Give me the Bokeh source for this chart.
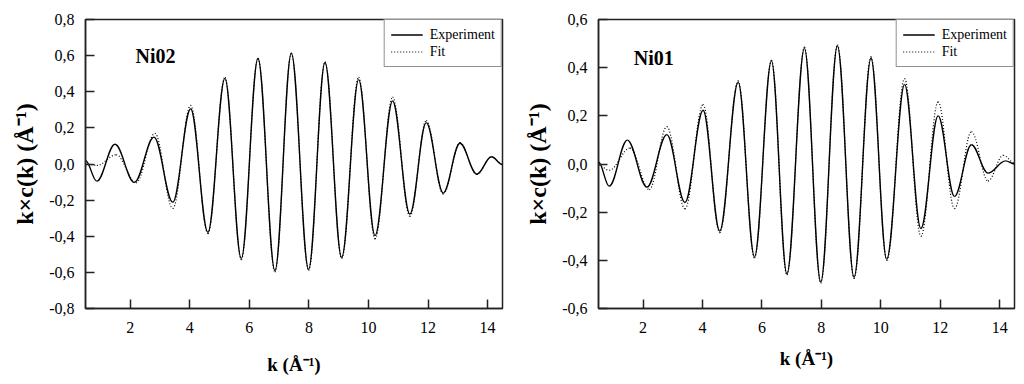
import numpy as np
from bokeh.plotting import figure
from bokeh.layouts import row
from bokeh.models import (FixedTicker, CustomJSTickFormatter, Label, Legend,
                          LegendItem, ColumnDataSource)
from bokeh.embed import file_html
from bokeh.resources import INLINE

# ---------------- data (extrema) ----------------
x_ticks = [2, 4, 6, 8, 10, 12, 14]
ni02_y_ticks = [-0.8, -0.6, -0.4, -0.2, 0.0, 0.2, 0.4, 0.6, 0.8]
ni01_y_ticks = [-0.6, -0.4, -0.2, 0.0, 0.2, 0.4, 0.6]

ni02_k_exp = [0.50, 0.88, 1.49, 2.14, 2.80, 3.43, 4.03, 4.61, 5.18, 5.73, 6.29, 6.86, 7.41,
              7.99, 8.54, 9.10, 9.67, 10.22, 10.81, 11.39, 11.94, 12.51, 13.07, 13.64, 14.13, 14.50]
ni02_y_exp = [0.019, -0.095, 0.109, -0.102, 0.149, -0.212, 0.306, -0.378, 0.474, -0.523, 0.584,
              -0.590, 0.613, -0.583, 0.562, -0.518, 0.467, -0.396, 0.349, -0.277, 0.229, -0.160,
              0.115, -0.056, 0.040, -0.003]
ni02_k_fit = [0.50, 0.88, 1.53, 2.20, 2.83, 3.43, 4.03, 4.61, 5.18, 5.73, 6.29, 6.86, 7.41,
              7.99, 8.54, 9.10, 9.67, 10.22, 10.81, 11.39, 11.94, 12.51, 13.07, 13.64, 14.13, 14.50]
ni02_y_fit = [0.000, -0.008, 0.051, -0.104, 0.170, -0.246, 0.325, -0.385, 0.480, -0.530, 0.585,
              -0.598, 0.613, -0.590, 0.565, -0.522, 0.480, -0.414, 0.370, -0.290, 0.240, -0.166,
              0.118, -0.058, 0.040, -0.002]

ni01_k_exp = [0.50, 0.86, 1.47, 2.13, 2.80, 3.41, 4.02, 4.58, 5.20, 5.75, 6.32, 6.84, 7.43,
              7.98, 8.54, 9.10, 9.67, 10.20, 10.80, 11.35, 11.93, 12.48, 13.05, 13.61, 14.20, 14.50]
ni01_y_exp = [0.008, -0.092, 0.099, -0.096, 0.122, -0.160, 0.223, -0.278, 0.339, -0.385, 0.428,
              -0.456, 0.480, -0.490, 0.490, -0.470, 0.439, -0.395, 0.330, -0.268, 0.200, -0.135,
              0.080, -0.038, 0.013, 0.000]
ni01_k_fit = [0.50, 0.86, 1.56, 2.21, 2.80, 3.41, 4.02, 4.58, 5.20, 5.75, 6.32, 6.84, 7.43,
              7.98, 8.54, 9.10, 9.67, 10.20, 10.80, 11.35, 11.93, 12.48, 13.05, 13.61, 14.12, 14.50]
ni01_y_fit = [-0.005, -0.026, 0.066, -0.106, 0.155, -0.186, 0.247, -0.285, 0.345, -0.390, 0.430,
              -0.460, 0.485, -0.495, 0.495, -0.475, 0.445, -0.400, 0.355, -0.300, 0.258, -0.185,
              0.134, -0.070, 0.036, 0.004]

SERIF = "Liberation Serif"


def smooth_source(k, y):
    """Cubic Bezier segments between consecutive read points (flat tangents at extrema)."""
    k = np.asarray(k, float)
    y = np.asarray(y, float)
    x0, x1, y0, y1 = k[:-1], k[1:], y[:-1], y[1:]
    d = 0.3634 * (x1 - x0)
    return ColumnDataSource(dict(x0=x0, y0=y0, x1=x1, y1=y1,
                                 cx0=x0 + d, cy0=y0, cx1=x1 - d, cy1=y1))


def panel(name, k_exp, y_exp, k_fit, y_fit, y_ticks, yr, borders, label_xy, xlab_standoff):
    bl, br, bt, bb = borders
    p = figure(width=512, height=380, x_range=(0.5, 14.5), y_range=yr,
               output_backend="svg", toolbar_location=None,
               min_border_left=bl, min_border_right=br,
               min_border_top=bt, min_border_bottom=bb)
    p.xgrid.visible = False
    p.ygrid.visible = False
    p.background_fill_color = "white"
    p.border_fill_color = "white"
    p.outline_line_color = "#222222"
    p.outline_line_width = 1.5

    kw = dict(x0="x0", y0="y0", x1="x1", y1="y1", cx0="cx0", cy0="cy0", cx1="cx1", cy1="cy1")
    p.bezier(source=smooth_source(k_fit, y_fit), line_color="black", line_width=1.2,
             line_dash="1 2", **kw)
    p.bezier(source=smooth_source(k_exp, y_exp), line_color="black", line_width=1.4, **kw)

    # single-point lines (draw nothing) used only as legend swatches
    r_exp = p.line(x=k_exp[:1], y=y_exp[:1], line_color="black", line_width=1.3)
    r_fit = p.line(x=k_fit[:1], y=y_fit[:1], line_color="black", line_width=1.2,
                   line_dash="1 2")
    leg = Legend(items=[LegendItem(label="Experiment", renderers=[r_exp]),
                        LegendItem(label="Fit", renderers=[r_fit])],
                 location="top_right", margin=0, padding=6, spacing=0,
                 glyph_width=32, glyph_height=17, label_height=17, label_standoff=7,
                 label_text_font=SERIF, label_text_font_size="14px",
                 label_text_color="black",
                 border_line_color="#222222", border_line_width=1.2,
                 background_fill_color="white", background_fill_alpha=1.0)
    p.add_layout(leg)

    for ax in (p.xaxis, p.yaxis):
        ax.axis_line_width = 1.5
        ax.axis_line_color = "#222222"
        ax.major_tick_line_width = 1.5
        ax.major_tick_line_color = "#222222"
        ax.major_tick_in = 9
        ax.major_tick_out = 0
        ax.minor_tick_in = 0
        ax.minor_tick_out = 0
        ax.major_label_text_font = SERIF
        ax.major_label_text_font_size = "16px"
        ax.major_label_text_color = "black"
        ax.axis_label_text_font = SERIF
        ax.axis_label_text_font_style = "bold"
        ax.axis_label_text_color = "black"

    p.xaxis.ticker = FixedTicker(ticks=x_ticks)
    p.yaxis.ticker = FixedTicker(ticks=y_ticks)
    p.yaxis.formatter = CustomJSTickFormatter(code="return tick.toFixed(1).replace('.', ',');")
    p.xaxis.formatter = CustomJSTickFormatter(code="return tick.toFixed(0);")
    p.xaxis.major_label_standoff = 13
    p.yaxis.major_label_standoff = 11
    p.xaxis.axis_label = "k (Å⁻¹)"
    p.yaxis.axis_label = "k×c(k) (Å⁻¹)"
    p.xaxis.axis_label_text_font_size = "19px"
    p.yaxis.axis_label_text_font_size = "24px"
    p.xaxis.axis_label_standoff = xlab_standoff
    p.yaxis.axis_label_standoff = 8

    p.add_layout(Label(x=label_xy[0], y=label_xy[1], text=name, text_font=SERIF,
                       text_font_style="bold", text_font_size="20px",
                       text_color="black", text_baseline="alphabetic"))
    return p


p1 = panel("Ni02", ni02_k_exp, ni02_y_exp, ni02_k_fit, ni02_y_fit, ni02_y_ticks,
           (-0.8, 0.8), (85, 10, 15, 72), (2.18, 0.597), 18)
p2 = panel("Ni01", ni01_k_exp, ni01_y_exp, ni01_k_fit, ni01_y_fit, ni01_y_ticks,
           (-0.6, 0.6), (86, 10, 19, 68), (1.69, 0.440), 12)

layout = row(p1, p2)
open("out.html", "w").write(file_html(layout, INLINE))
